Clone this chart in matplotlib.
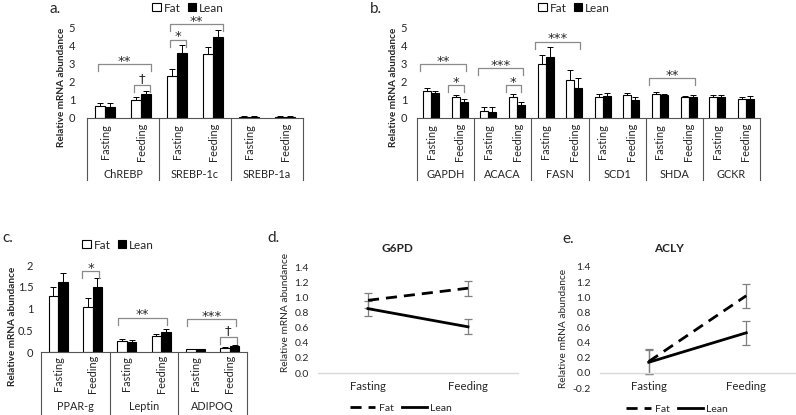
import matplotlib
matplotlib.use('Agg')
import matplotlib.pyplot as plt
from matplotlib.patches import Patch
from matplotlib.lines import Line2D
import numpy as np

plt.rcParams['font.family'] = ['Lato', 'DejaVu Sans']

# ---------------- data ----------------
conditions = ['Fasting', 'Feeding']

a_genes = ['ChREBP', 'SREBP-1c', 'SREBP-1a']
a_fat = [0.68, 1.01, 2.32, 3.57, 0.07, 0.07]
a_fat_err = [0.13, 0.17, 0.42, 0.38, 0.02, 0.02]
a_lean = [0.63, 1.36, 3.62, 4.49, 0.07, 0.08]
a_lean_err = [0.18, 0.14, 0.42, 0.42, 0.02, 0.03]
a_brackets = [(0, 1, 3.0, '**'), (1, 1, 1.82, '†'), (2, 2, 4.36, '*'), (2, 3, 5.22, '**')]

b_genes = ['GAPDH', 'ACACA', 'FASN', 'SCD1', 'SHDA', 'GCKR']
b_fat = [1.51, 1.19, 0.40, 1.14, 2.98, 2.10, 1.19, 1.25, 1.36, 1.18, 1.19, 1.07]
b_fat_err = [0.13, 0.11, 0.19, 0.18, 0.51, 0.55, 0.17, 0.15, 0.07, 0.05, 0.11, 0.12]
b_lean = [1.38, 0.90, 0.35, 0.72, 3.38, 1.69, 1.23, 0.99, 1.29, 1.16, 1.14, 1.07]
b_lean_err = [0.12, 0.18, 0.24, 0.18, 0.57, 0.55, 0.17, 0.15, 0.07, 0.09, 0.15, 0.14]
b_brackets = [(0, 1, 2.98, '**'), (1, 1, 1.82, '*'), (2, 3, 2.76, '***'), (3, 3, 1.82, '*'),
              (4, 5, 4.23, '***'), (8, 9, 2.2, '**')]

c_genes = ['PPAR-g', 'Leptin', 'ADIPOQ']
c_fat = [1.29, 1.04, 0.25, 0.37, 0.06, 0.10]
c_fat_err = [0.21, 0.19, 0.05, 0.05, 0.01, 0.02]
c_lean = [1.60, 1.50, 0.22, 0.45, 0.07, 0.13]
c_lean_err = [0.22, 0.19, 0.05, 0.07, 0.01, 0.02]
c_brackets = [(1, 1, 1.86, '*'), (2, 3, 0.79, '**'), (4, 5, 0.75, '***'), (5, 5, 0.35, '†')]

d_fat = [0.96, 1.12]
d_fat_err = [0.10, 0.10]
d_lean = [0.85, 0.61]
d_lean_err = [0.10, 0.10]

e_fat = [0.15, 1.02]
e_fat_err = [0.16, 0.16]
e_lean = [0.14, 0.53]
e_lean_err = [0.16, 0.16]

# ---------------- layout helpers ----------------
W, H = 796, 415
fig = plt.figure(figsize=(W / 100, H / 100), dpi=100)

TXT = '#262626'
BRK = '#8a8a8a'


def add_ax(x0, y0, x1, y1):
    return fig.add_axes([x0 / W, 1 - y1 / H, (x1 - x0) / W, (y1 - y0) / H])


def ftext(x, y, s, **kw):
    return fig.text(x / W, 1 - y / H, s, **kw)


def bar_panel(ax, genes, fat, fat_err, lean, lean_err, ylim, yticks, ylabels,
              px_top, px_bot, sub_y, grp_y, line_y, brackets, lo, hi, lo1, hi1, pad):
    n = len(fat)
    x = np.arange(n)
    w = 0.28
    zeros = np.zeros(n)
    ax.bar(x - w / 2, fat, w, color='white', edgecolor='black', lw=0.8, zorder=2)
    ax.bar(x + w / 2, lean, w, color='black', edgecolor='black', lw=0.8, zorder=2)
    ax.errorbar(x - w / 2, fat, yerr=[zeros, fat_err], fmt='none', ecolor='black',
                elinewidth=0.7, capsize=2, capthick=0.7, zorder=3)
    ax.errorbar(x + w / 2, lean, yerr=[zeros, lean_err], fmt='none', ecolor='black',
                elinewidth=0.7, capsize=2, capthick=0.7, zorder=3)
    ax.set_xlim(-0.5, n - 0.5)
    ax.set_ylim(*ylim)
    ax.set_yticks(yticks)
    ax.set_yticklabels(ylabels)
    for s in ['top', 'right', 'left']:
        ax.spines[s].set_visible(False)
    ax.spines['bottom'].set_color('#555555')
    ax.spines['bottom'].set_linewidth(0.8)
    ax.tick_params(axis='y', length=0, labelsize=8, labelcolor=TXT, pad=pad)
    ax.tick_params(axis='x', length=0, labelbottom=False)
    h = px_bot - px_top
    f = lambda py: -(py - px_bot) / h
    trans = ax.get_xaxis_transform()
    for i in range(n):
        ax.text(i, f(sub_y), conditions[i % 2], rotation=90, ha='center', va='center',
                transform=trans, fontsize=7.8, color=TXT)
    for g, name in enumerate(genes):
        ax.text(2 * g + 0.5, f(grp_y), name, ha='center', va='center',
                transform=trans, fontsize=7.8, color=TXT)
    for b in np.arange(0, n + 1, 2) - 0.5:
        ax.plot([b, b], [0, f(line_y)], transform=trans, clip_on=False,
                color='#555555', lw=0.8)
    # significance brackets
    per_px = (ylim[1] - ylim[0]) / h
    drop = 7 * per_px
    for (i, j, yb, lab) in brackets:
        if i == j:
            x0, x1 = i + lo1, j + hi1
        else:
            x0, x1 = i + lo, j + hi
        ax.plot([x0, x0, x1, x1], [yb - drop, yb, yb, yb - drop], color=BRK, lw=0.9,
                clip_on=False, zorder=4)
        if lab == '†':
            ax.text((x0 + x1) / 2, yb + 3 * per_px, lab, ha='center', va='baseline',
                    fontsize=9.5, color=TXT, family='DejaVu Sans')
        else:
            ax.text((x0 + x1) / 2, yb - 0.5 * per_px, lab, ha='center', va='baseline',
                    fontsize=9.5, color=TXT, family='DejaVu Sans')


def bar_legend(cx, cy):
    handles = [Patch(facecolor='white', edgecolor='black', lw=0.8),
               Patch(facecolor='black', edgecolor='black', lw=0.8)]
    fig.legend(handles, ['Fat', 'Lean'], loc='center', bbox_to_anchor=(cx / W, 1 - cy / H),
               ncol=2, frameon=False, fontsize=8.5, handlelength=0.7, handleheight=0.7,
               handletextpad=0.25, columnspacing=0.6, borderpad=0, labelcolor=TXT)


def line_panel(ax, fat, fat_err, lean, lean_err, ylim, yticks):
    x = np.arange(2)
    ax.errorbar(x, fat, yerr=fat_err, fmt='none', ecolor='#7f7f7f', elinewidth=0.9,
                capsize=3, capthick=0.9, zorder=2)
    ax.errorbar(x, lean, yerr=lean_err, fmt='none', ecolor='#7f7f7f', elinewidth=0.9,
                capsize=3, capthick=0.9, zorder=2)
    ax.plot(x, fat, color='black', lw=2.0, dashes=(4, 2.5), zorder=3)
    ax.plot(x, lean, color='black', lw=2.0, zorder=3)
    ax.set_xlim(-0.5, 1.5)
    ax.set_ylim(*ylim)
    ax.set_yticks(yticks)
    ax.set_yticklabels(['%.1f' % v for v in yticks])
    ax.set_xticks(x)
    ax.set_xticklabels(conditions, fontweight='bold')
    for s in ['top', 'right', 'left']:
        ax.spines[s].set_visible(False)
    ax.spines['bottom'].set_position(('data', 0))
    ax.spines['bottom'].set_color('#d9d9d9')
    ax.spines['bottom'].set_linewidth(1.0)
    ax.tick_params(axis='y', length=0, labelsize=7.5, labelcolor=TXT, pad=6.5)
    ax.tick_params(axis='x', length=0, labelsize=8.2, labelcolor=TXT, pad=6)


def line_legend(cx, cy):
    handles = [Line2D([], [], color='black', lw=2.0, dashes=(4, 2.5)),
               Line2D([], [], color='black', lw=2.0)]
    fig.legend(handles, ['Fat', 'Lean'], loc='center', bbox_to_anchor=(cx / W, 1 - cy / H),
               ncol=2, frameon=False, fontsize=7.5, handlelength=2.4,
               handletextpad=0.3, columnspacing=0.8, borderpad=0, labelcolor=TXT)


# ---------------- panel a ----------------
ax_a = add_ax(87, 28, 303, 118)
bar_panel(ax_a, a_genes, a_fat, a_fat_err, a_lean, a_lean_err, (0, 5), [0, 1, 2, 3, 4, 5],
          ['0', '1', '2', '3', '4', '5'], 28, 118, 142, 174, 180, a_brackets,
          -0.2, 0.27, -0.2, 0.25, 8.5)
bar_legend(188, 8)
ftext(61, 87, 'Relative mRNA abundance', rotation=90, ha='center', va='center',
      fontsize=7.2, fontweight='bold', color=TXT)
ftext(49, 9, 'a.', ha='left', va='center', fontsize=11, color=TXT)

# ---------------- panel b ----------------
ax_b = add_ax(417, 28, 760, 118)
bar_panel(ax_b, b_genes, b_fat, b_fat_err, b_lean, b_lean_err, (0, 5), [0, 1, 2, 3, 4, 5],
          ['0', '1', '2', '3', '4', '5'], 28, 118, 142, 174, 180, b_brackets,
          -0.38, 0.22, -0.4, 0.13, 7)
bar_legend(574, 8)
ftext(394, 87, 'Relative mRNA abundance', rotation=90, ha='center', va='center',
      fontsize=7.2, fontweight='bold', color=TXT)
ftext(370, 9, 'b.', ha='left', va='center', fontsize=11, color=TXT)

# ---------------- panel c ----------------
ax_c = add_ax(41, 265, 247, 352)
bar_panel(ax_c, c_genes, c_fat, c_fat_err, c_lean, c_lean_err, (0, 2), [0, 0.5, 1, 1.5, 2],
          ['0', '0.5', '1', '1.5', '2'], 265, 352, 374, 406, 415, c_brackets,
          -0.25, 0.17, -0.3, 0.2, 5.5)
bar_legend(118, 245)
ftext(13, 326, 'Relative mRNA abundance', rotation=90, ha='center', va='center',
      fontsize=7.2, fontweight='bold', color=TXT)
ftext(2, 238, 'c.', ha='left', va='center', fontsize=11, color=TXT)

# ---------------- panel d ----------------
ax_d = add_ax(318, 267, 518, 373)
line_panel(ax_d, d_fat, d_fat_err, d_lean, d_lean_err, (0, 1.4),
           [0, 0.2, 0.4, 0.6, 0.8, 1.0, 1.2, 1.4])
ftext(397, 248, 'G6PD', ha='center', va='center', fontsize=8.5, fontweight='bold', color=TXT)
ftext(285, 312, 'Relative mRNA abundance', rotation=90, ha='center', va='center',
      fontsize=7.3, color=TXT)
ftext(267, 238, 'd.', ha='left', va='center', fontsize=11, color=TXT)
line_legend(401, 408)

# ---------------- panel e ----------------
ax_e = add_ax(600, 267, 795, 388)
line_panel(ax_e, e_fat, e_fat_err, e_lean, e_lean_err, (-0.2, 1.4),
           [-0.2, 0, 0.2, 0.4, 0.6, 0.8, 1.0, 1.2, 1.4])
ftext(669, 248, 'ACLY', ha='center', va='center', fontsize=8.5, fontweight='bold', color=TXT)
ftext(563, 328, 'Relative mRNA abundance', rotation=90, ha='center', va='center',
      fontsize=7.3, color=TXT)
ftext(562, 239, 'e.', ha='left', va='center', fontsize=11, color=TXT)
line_legend(677, 409)

fig.savefig('out.png', dpi=100)
